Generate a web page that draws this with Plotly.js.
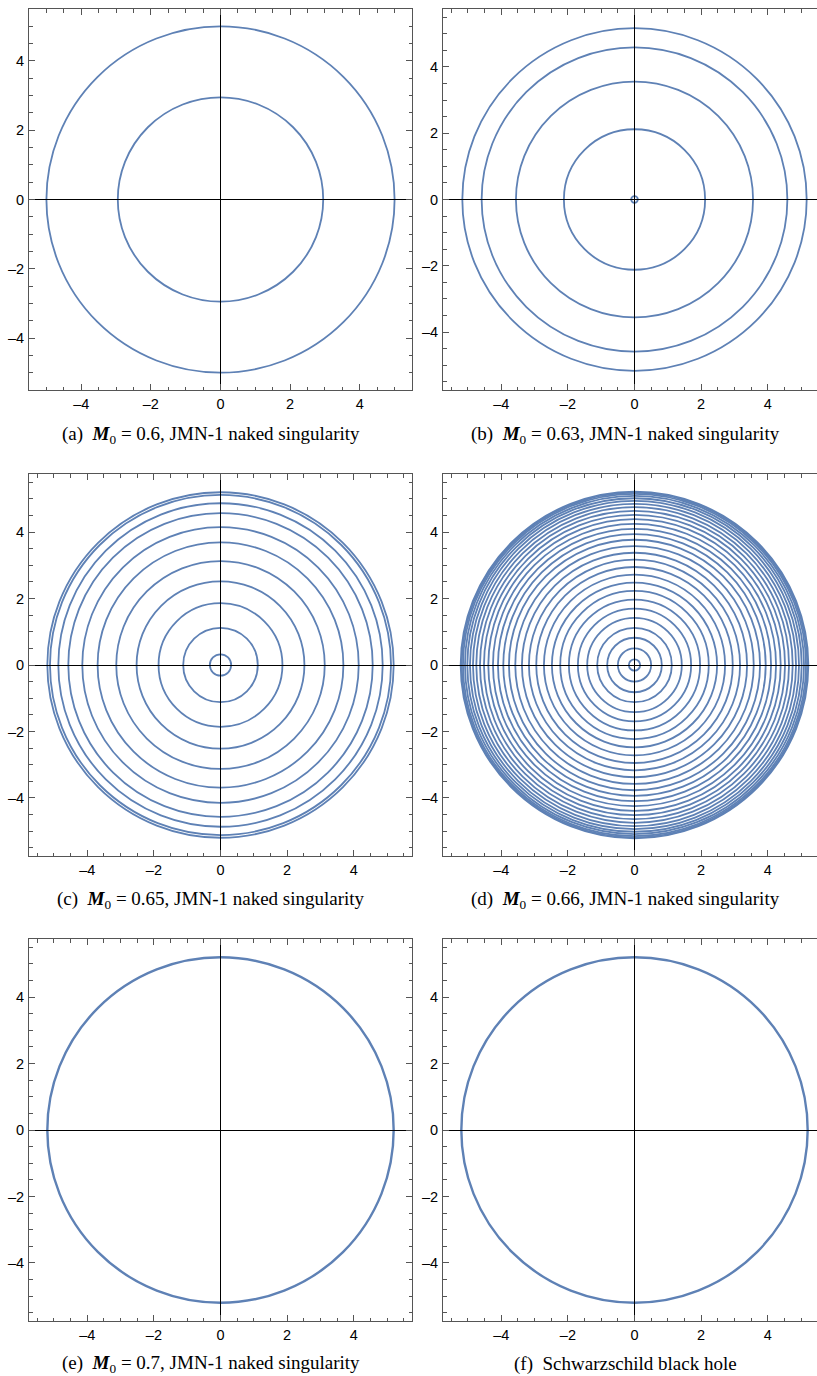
<!DOCTYPE html>
<html>
<head>
<meta charset="utf-8">
<script src="https://cdn.plot.ly/plotly-3.0.1.min.js"></script>
<style>
html,body{margin:0;padding:0;overflow:hidden;background:#fff;}
#chart{width:830px;height:1376px;}
</style>
</head>
<body>
<div id="chart"></div>
<script>
// Orbit radii
var radiiA = [5.0, 2.95];
var radiiB = [5.17, 4.59, 3.56, 2.12, 0.1];
var radiiC = [5.2, 5.12, 4.87, 4.57, 4.15, 3.69, 3.13, 2.52, 1.86, 1.12, 0.32];
var radiiD = [5.22, 5.19, 5.15, 5.09, 5.02, 4.94, 4.85, 4.75, 4.64, 4.52, 4.39, 4.25, 4.1, 3.94,
              3.77, 3.58, 3.38, 3.17, 2.95, 2.72, 2.48, 2.23, 1.97, 1.7, 1.42, 1.12, 0.82, 0.5, 0.17];
var radiiE = [5.2];
var radiiF = [5.2];

var captions = [
  "(a)\u00a0\u00a0<b><i>M</i></b><sub>0</sub> = 0.6, JMN-1 naked singularity",
  "(b)\u00a0\u00a0<b><i>M</i></b><sub>0</sub> = 0.63, JMN-1 naked singularity",
  "(c)\u00a0\u00a0<b><i>M</i></b><sub>0</sub> = 0.65, JMN-1 naked singularity",
  "(d)\u00a0\u00a0<b><i>M</i></b><sub>0</sub> = 0.66, JMN-1 naked singularity",
  "(e)\u00a0\u00a0<b><i>M</i></b><sub>0</sub> = 0.7, JMN-1 naked singularity",
  "(f)\u00a0\u00a0Schwarzschild black hole"
];
var tickVals = [-4, -2, 0, 2, 4];

var W = 830, H = 1376;
var panels = [
  {r: radiiA, lim: 5.5,  x0: 29,  x1: 412, y0: 9,   y1: 390,  w: 1.8, cx: 211, cy: 435},
  {r: radiiB, lim: 5.75, x0: 443, x1: 826, y0: 9,   y1: 390,  w: 1.8, cx: 625, cy: 435},
  {r: radiiC, lim: 5.75, x0: 29,  x1: 412, y0: 474, y1: 856,  w: 1.8, cx: 211, cy: 900},
  {r: radiiD, lim: 5.75, x0: 443, x1: 826, y0: 474, y1: 856,  w: 1.8, cx: 625, cy: 900},
  {r: radiiE, lim: 5.75, x0: 29,  x1: 412, y0: 939, y1: 1321, w: 2.4, cx: 211, cy: 1364},
  {r: radiiF, lim: 5.75, x0: 443, x1: 826, y0: 939, y1: 1321, w: 2.4, cx: 625, cy: 1364}
];

var blue = '#5E81B5';
var frameCol = '#555';
var traces = [], shapes = [], annotations = [];
var layout = {
  width: W, height: H,
  margin: {l: 0, r: 0, t: 0, b: 0},
  paper_bgcolor: '#fff', plot_bgcolor: '#fff',
  showlegend: false,
  font: {family: 'Liberation Sans, Arial, sans-serif', size: 14, color: '#000'}
};

function axisDef(dom, lim, anchor) {
  return {
    domain: dom, range: [-lim, lim], anchor: anchor,
    showgrid: false, zeroline: true, zerolinecolor: '#000', zerolinewidth: 1,
    showline: true, linecolor: frameCol, linewidth: 1, mirror: 'ticks',
    ticks: 'inside', ticklen: 6, tickwidth: 1, tickcolor: frameCol,
    tickmode: 'array', tickvals: tickVals, ticktext: tickVals.map(function (v) { return v < 0 ? '\u2013' + (-v) : String(v); }),
    minor: {tickmode: 'linear', tick0: 0, dtick: 0.5, ticks: 'inside', ticklen: 3.5, tickwidth: 1, tickcolor: frameCol},
    tickfont: {family: 'Liberation Sans, Arial, sans-serif', size: 14.5, color: '#000'},
    ticklabelstandoff: 1,
    fixedrange: true
  };
}

panels.forEach(function (p, i) {
  var n = i + 1;
  var xs = n === 1 ? 'x' : 'x' + n;
  var ys = n === 1 ? 'y' : 'y' + n;
  var xk = n === 1 ? 'xaxis' : 'xaxis' + n;
  var yk = n === 1 ? 'yaxis' : 'yaxis' + n;
  layout[xk] = axisDef([p.x0 / W, p.x1 / W], p.lim, ys);
  layout[yk] = axisDef([1 - p.y1 / H, 1 - p.y0 / H], p.lim, xs);
  traces.push({type: 'scatter', x: [], y: [], xaxis: xs, yaxis: ys, mode: 'lines', hoverinfo: 'skip'});
  p.r.forEach(function (r) {
    shapes.push({type: 'circle', xref: xs, yref: ys, x0: -r, x1: r, y0: -r, y1: r,
                 line: {color: blue, width: p.w}, layer: 'below'});
  });
  annotations.push({xref: 'paper', yref: 'paper', x: p.cx / W, y: 1 - p.cy / H,
                    xanchor: 'center', yanchor: 'middle', showarrow: false,
                    text: captions[i],
                    font: {family: 'Liberation Serif, Times New Roman, serif', size: 19, color: '#000'}});
});
layout.shapes = shapes;
layout.annotations = annotations;

Plotly.newPlot('chart', traces, layout, {staticPlot: true, displayModeBar: false});
</script>
</body>
</html>
